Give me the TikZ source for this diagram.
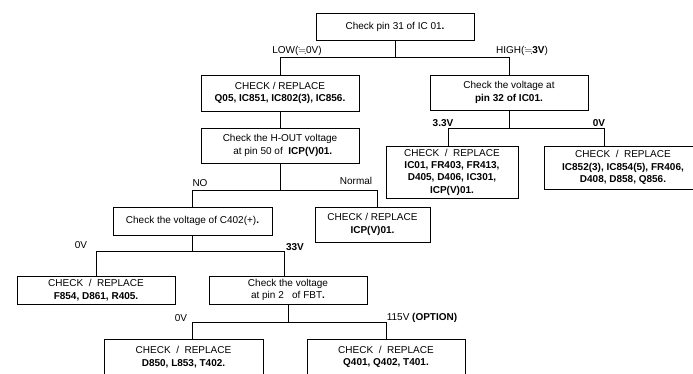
\documentclass[tikz,border=0pt]{standalone}
\usepackage{fontspec}
\usepackage{amssymb}
\setmainfont{Liberation Sans}
\usetikzlibrary{positioning,calc}

\tikzset{
  chk/.style={draw, line width=0.7pt, align=center, inner sep=1.5pt, minimum width=158pt, font=\fontsize{10}{12.3}\selectfont},
  lbl/.style={font=\fontsize{10}{12}\selectfont, inner sep=0pt},
  wire/.style={line width=0.7pt},
}

\begin{document}
\begin{tikzpicture}[x=1pt,y=-1pt]
		\useasboundingbox (0,0) rectangle (693,374);
		\clip (0,0) rectangle (693,374);
		% boxes
		\node[chk, minimum height=27pt] (pin31) at (395,26.5) {Check pin 31 of IC 01\textbf{.}};
		\node[chk, minimum height=36pt] (q05) at (280,93) {CHECK / REPLACE\\ \textbf{Q05, IC851, IC802(3), IC856.}};
		\node[chk, minimum height=35pt] (v32) at (509,92.5) {Check the voltage at\\ \textbf{pin 32 of IC01.}};
		\node[chk, minimum height=35pt] (hout) at (280,145.5) {Check the H-OUT voltage\\ \ \ at pin 50 of \ \textbf{ICP(V)01.}};
		\node[chk, minimum width=132pt, minimum height=52pt] (ic01) at (452,172) {CHECK \ / \ REPLACE\\ \textbf{IC01, FR403, FR413,}\\ \textbf{D405, D406, IC301,}\\ \textbf{ICP(V)01.}};
		\node[chk, minimum height=43pt] (ic852) at (623,167.5) {CHECK \ / \ REPLACE\\ \textbf{IC852(3), IC854(5), FR406,}\\ \textbf{D408, D858, Q856.}};
		\node[chk, minimum width=159pt, minimum height=28pt] (c402) at (192.5,221) {Check the voltage of C402(+)\textbf{.}};
		\node[chk, minimum width=115pt, minimum height=35pt] (icpv) at (372.5,224.5) {CHECK / REPLACE\\ \textbf{ICP(V)01.}};
		\node[chk, minimum height=28pt] (f854) at (96,290) {CHECK \ / \ REPLACE\\ \textbf{F854, D861, R405.}};
		\node[chk, minimum height=28pt] (fbt) at (288,290) {Check the voltage\\ at pin 2 \ \ of FBT\textbf{.}};
		\node[chk, minimum width=159pt, minimum height=36pt] (d850) at (183.5,357) {CHECK \ / \ REPLACE\\ \textbf{D850, L853, T402.}};
		\node[chk, minimum height=36pt] (q401) at (386,357) {CHECK \ / \ REPLACE\\ \textbf{Q401, Q402, T401.}};
		% connectors
		\draw[wire] (pin31.south) -- ++(0,17) coordinate (jA);
		\draw[wire] (q05.north) |- (jA) -| (v32.north);
		\draw[wire] (v32.south) -- ++(0,18) coordinate (jB);
		\draw[wire] ([xshift=-4pt]ic01.north) |- (jB) -| ([xshift=-19pt]ic852.north);
		\draw[wire] (q05.south) -- (hout.north);
		\draw[wire] (hout.south) -- ++(0,27) coordinate (jC);
		\draw[wire] (c402.north) |- (jC) -| ([xshift=4.5pt]icpv.north);
		\draw[wire] (c402.south) -- ++(0,16) coordinate (jD);
		\draw[wire] (f854.north) |- (jD) -| ([xshift=-4pt]fbt.north);
		\draw[wire] (fbt.south) -- ++(0,18) coordinate (jE);
		\draw[wire] ([xshift=8.5pt]d850.north) |- (jE) -| (q401.north);
		% labels
		\node[lbl] (lowlbl) at (297,51) {LOW($\fallingdotseq$0V)};
		\node[lbl] (highlbl) at (522,51) {HIGH($\fallingdotseq$\textbf{3V})};
		\node[lbl] (v33lbl) at (443,123) {\textbf{3.3V}};
		\node[lbl] (v0rlbl) at (599,123) {\textbf{0V}};
		\node[lbl] (nolbl) at (200,183) {NO};
		\node[lbl] (normlbl) at (356,181) {Normal};
		\node[lbl] (v0llbl) at (81,245) {0V};
		\node[lbl] (v33blbl) at (295,247) {\textbf{33V}};
		\node[lbl] (v0blbl) at (181,318) {0V};
		\node[lbl] (optlbl) at (422,318) {115V \textbf{(OPTION)}};
	\end{tikzpicture}
\end{document}
